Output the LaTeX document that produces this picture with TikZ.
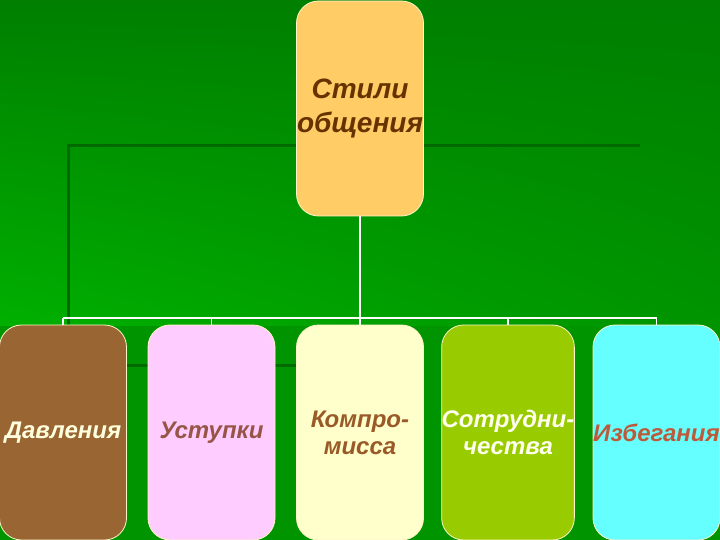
\documentclass[tikz,border=0pt]{standalone}
\usepackage{fontspec}
\setmainfont{Liberation Sans}
\usetikzlibrary{shadings}
\definecolor{bgdark}{HTML}{007F00}
\definecolor{bglight}{HTML}{00B000}
\definecolor{bgmid}{HTML}{009400}
\definecolor{framegreen}{HTML}{006A00}
\definecolor{edgecream}{HTML}{FFF4C8}
\tikzset{
  stylebox/.style = {draw = edgecream, line width = 0.8pt, rounded corners = 22pt,
    minimum width = 127pt, minimum height = 215pt, inner sep = 0pt, align = center,
    font = \fontsize{24}{27}\selectfont\bfseries\itshape},
  link/.style = {draw = white, line width = 1.8pt}
}
\begin{document}
\begin{tikzpicture}[x = 1pt, y = -1pt]
                \clip (0, 0) rectangle (720, 540);
                \shade [upper left = bgdark, upper right = bgdark, lower left = bglight, lower right = bgmid] (0, 0) rectangle (720, 326);
                \fill [color = bgmid] (0, 326) rectangle (720, 540);

                \draw [color = framegreen, line width = 3pt] (640, 146) -- (68, 146) -- (68, 365) -- (297, 365);

                \node [stylebox, fill = {rgb,255:red,255;green,204;blue,102}, text = {rgb,255:red,102;green,51;blue,0},
                  font = \fontsize{28}{34}\selectfont\bfseries\itshape] (styles) at (360, 108.5) {Стили\\общения};

                \node [stylebox, fill = {rgb,255:red,153;green,102;blue,51}, text = {rgb,255:red,255;green,255;blue,221}] (press) at (63, 432.5) {Давления};
                \node [stylebox, fill = {rgb,255:red,255;green,204;blue,255}, text = {rgb,255:red,150;green,85;blue,70}] (yield) at (211.5, 432.5) {Уступки};
                \node [stylebox, fill = {rgb,255:red,255;green,255;blue,204}, text = {rgb,255:red,153;green,90;blue,40}] (compromise) at (360, 432.5) {Компро-\\мисса};
                \node [stylebox, fill = {rgb,255:red,153;green,204;blue,0}, text = {rgb,255:red,255;green,255;blue,238}] (coop) at (508, 432.5) {Сотрудни-\\чества};
                \node [stylebox, fill = {rgb,255:red,102;green,255;blue,255}, text = {rgb,255:red,190;green,90;blue,60}] (avoid) at (656.5, 432.5) {Избегания};

                \coordinate (bus) at (360, 318);
                \draw [link] (styles.south) -- (styles.south |- bus);
                \draw [link] (press.north |- bus) -- (avoid.north |- bus);
                \foreach \n in {press, yield, compromise, coop, avoid}
                \draw [link] (\n.north |- bus) -- (\n.north);
            \end{tikzpicture}
\end{document}
